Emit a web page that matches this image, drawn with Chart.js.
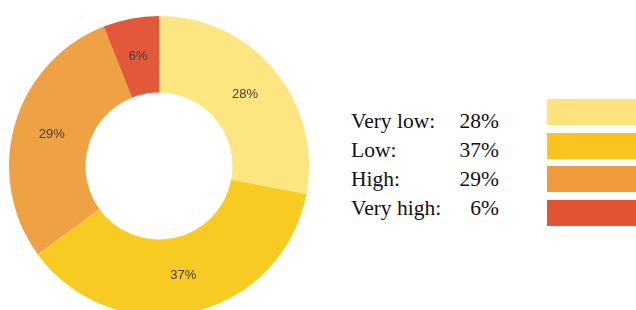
<!DOCTYPE html>
<html>
<head>
<meta charset="utf-8">
<script src="https://cdn.jsdelivr.net/npm/chart.js@4.4.0/dist/chart.umd.min.js"></script>
<style>
  html, body { margin: 0; padding: 0; background: #fff; width: 636px; height: 310px; overflow: hidden; }
  #pie { position: absolute; left: 9px; top: 16px; }
  #legend { position: absolute; left: 351px; top: 107px; width: 148px; font-family: "Liberation Serif", "DejaVu Serif", serif; font-size: 21.5px; color: #111; }
  .row { display: flex; justify-content: space-between; height: 29px; line-height: 29px; }
  .sw { position: absolute; left: 547px; width: 100px; height: 26px; box-sizing: border-box; }
</style>
</head>
<body>
<canvas id="pie" width="300" height="300"></canvas>
<div id="legend"></div>
<div id="swatches"></div>
<script>
const categories = ['Very low', 'Low', 'High', 'Very high'];
const shares = [28, 37, 29, 6];
const sliceColors = ['#FDE57F', '#F7CB21', '#EFA244', '#E3583A'];
const swatchColors = ['#FEE37C', '#F9C41D', '#F0993D', '#E25332'];

// legend (text + colour boxes)
const legendEl = document.getElementById('legend');
categories.forEach(function(name, i) {
    const row = document.createElement('div');
    row.className = 'row';
    row.innerHTML = '<span>' + name + ':</span><span>' + shares[i] + '%</span>';
    legendEl.appendChild(row);
});
const swTops = [99, 132.5, 166, 200];
const swEl = document.getElementById('swatches');
swatchColors.forEach(function(c, i) {
    const d = document.createElement('div');
    d.className = 'sw';
    d.style.top = swTops[i] + 'px';
    d.style.background = c;
    swEl.appendChild(d);
});

// percent labels inside the ring
const sliceLabels = {
    id: 'sliceLabels',
    afterDatasetsDraw(chart) {
        const ctx = chart.ctx;
        const meta = chart.getDatasetMeta(0);
        ctx.save();
        ctx.font = '13px "Liberation Sans", Arial, sans-serif';
        ctx.fillStyle = '#443d33';
        ctx.textAlign = 'center';
        ctx.textBaseline = 'middle';
        meta.data.forEach(function(arc, i) {
            const p = arc.tooltipPosition();
            ctx.fillText(shares[i] + '%', p.x, p.y);
        });
        ctx.restore();
    }
};

new Chart(document.getElementById('pie'), {
    type: 'doughnut',
    data: { labels: categories, datasets: [{ data: shares, backgroundColor: sliceColors, borderWidth: 0 }] },
    options: {
        responsive: false,
        animation: false,
        cutout: '49%',
        layout: { padding: 0 },
        plugins: { legend: { display: false }, tooltip: { enabled: false } }
    },
    plugins: [sliceLabels]
});
</script>
</body>
</html>
